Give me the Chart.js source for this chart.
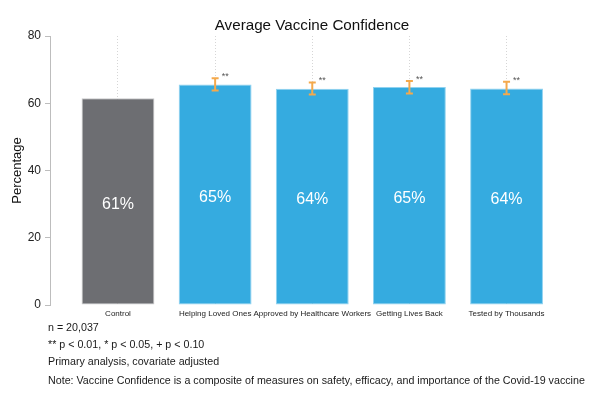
<!DOCTYPE html>
<html>
<head>
<meta charset="utf-8">
<script src="https://cdn.jsdelivr.net/npm/chart.js@4"></script>
<style>
  html, body { margin: 0; padding: 0; background: #fff; }
  #wrap { position: relative; width: 595px; height: 399px; }
  canvas { position: absolute; left: 0; top: 0; }
  .note { position: absolute; left: 48px; font-family: "Liberation Sans", Arial, sans-serif; font-size: 10.7px; color: #1a1a1a; white-space: nowrap; line-height: 12px; }
  .title { position: absolute; left: 162px; width: 300px; top: 16px; text-align: center; font-family: "Liberation Sans", Arial, sans-serif; font-size: 15.2px; line-height: 18px; color: #111; white-space: nowrap; }
</style>
</head>
<body>
<div id="wrap">
  <canvas id="c" width="595" height="399"></canvas>
  <div class="title">Average Vaccine Confidence</div>
  <div class="note" style="top:321px">n = 20,037</div>
  <div class="note" style="top:338px">** p &lt; 0.01, * p &lt; 0.05, + p &lt; 0.10</div>
  <div class="note" style="top:355px">Primary analysis, covariate adjusted</div>
  <div class="note" style="top:374px">Note: Vaccine Confidence is a composite of measures on safety, efficacy, and importance of the Covid-19 vaccine</div>
</div>
<script>
const categories = ['Control', 'Helping Loved Ones', 'Approved by Healthcare Workers', 'Getting Lives Back', 'Tested by Thousands'];
const values = [61.5, 65.6, 64.3, 64.8, 64.4];
const valueLabels = ['61%', '65%', '64%', '65%', '64%'];
const errLow = [null, 63.8, 62.6, 62.9, 62.7];
const errHigh = [null, 67.4, 66.2, 66.6, 66.4];
const sigMarks = ['', '**', '**', '**', '**'];
const barColors = ['#6d6e72', '#35abe0', '#35abe0', '#35abe0', '#35abe0'];
const yTicks = [0, 20, 40, 60, 80];

const FONT = '"Liberation Sans", Arial, sans-serif';

const overlay = {
  id: 'overlay',
  afterDatasetsDraw(chart) {
    const ctx = chart.ctx;
    const meta = chart.getDatasetMeta(0);
    const ys = chart.scales.y;
    meta.data.forEach((bar, i) => {
      ctx.save();
      ctx.fillStyle = '#ffffff';
      ctx.font = '16px ' + FONT;
      ctx.textAlign = 'center';
      ctx.textBaseline = 'middle';
      ctx.fillText(valueLabels[i], bar.x, (bar.y + bar.base) / 2 + 3);
      ctx.restore();
      if (errLow[i] != null) {
        const yl = ys.getPixelForValue(errLow[i]);
        const yh = ys.getPixelForValue(errHigh[i]);
        ctx.save();
        ctx.strokeStyle = '#f4a94c';
        ctx.lineWidth = 2;
        ctx.beginPath();
        ctx.moveTo(bar.x, yl); ctx.lineTo(bar.x, yh);
        ctx.moveTo(bar.x - 3.5, yl); ctx.lineTo(bar.x + 3.5, yl);
        ctx.moveTo(bar.x - 3.5, yh); ctx.lineTo(bar.x + 3.5, yh);
        ctx.stroke();
        ctx.fillStyle = '#555';
        ctx.font = '9px ' + FONT;
        ctx.textAlign = 'center';
        ctx.textBaseline = 'alphabetic';
        ctx.fillText(sigMarks[i], bar.x + 10, yh + 1);
        ctx.restore();
      }
    });
  }
};

new Chart(document.getElementById('c'), {
  type: 'bar',
  data: {
    datasets: [{
      data: values.map((v, i) => ({ x: i, y: v })),
      backgroundColor: barColors,
      borderColor: ['#c9c9cb', '#8fd2f0', '#8fd2f0', '#8fd2f0', '#8fd2f0'],
      borderWidth: 1,
      borderSkipped: false,
      categoryPercentage: 0.75,
      barPercentage: 1
    }]
  },
  options: {
    responsive: false,
    animation: false,
    devicePixelRatio: 1,
    layout: { padding: { left: 0, right: 36, top: 36, bottom: 0 } },
    plugins: {
      legend: { display: false },
      tooltip: { enabled: false },
      title: { display: false }
    },
    scales: {
      x: {
        type: 'linear',
        offset: false,
        min: -0.70,
        max: 4.54,
        afterBuildTicks: (s) => { s.ticks = categories.map((_, i) => ({ value: i })); },
        afterFit: (s) => { s.height = 94; },
        border: { display: false, dash: [1, 2] },
        grid: { display: true, offset: false, drawTicks: false, color: '#d6d6d6', lineWidth: 1 },
        ticks: {
          autoSkip: false, maxRotation: 0, minRotation: 0, padding: 4,
          color: '#222',
          font: { family: FONT, size: 8 },
          callback: (v) => categories[v]
        }
      },
      y: {
        min: 0,
        max: 80,
        afterBuildTicks: (s) => { s.ticks = yTicks.map(v => ({ value: v })); },
        afterFit: (s) => { s.width = 50; },
        border: { display: true, color: '#bdbdbd', width: 1 },
        grid: { display: true, drawOnChartArea: false, drawTicks: true, tickLength: 5, color: '#bdbdbd' },
        ticks: { color: '#222', font: { family: FONT, size: 12 }, padding: 4 },
        title: { display: true, text: 'Percentage', color: '#111', font: { family: FONT, size: 13 }, padding: { top: 10, bottom: 0 } }
      }
    }
  },
  plugins: [overlay]
});
</script>
</body>
</html>
